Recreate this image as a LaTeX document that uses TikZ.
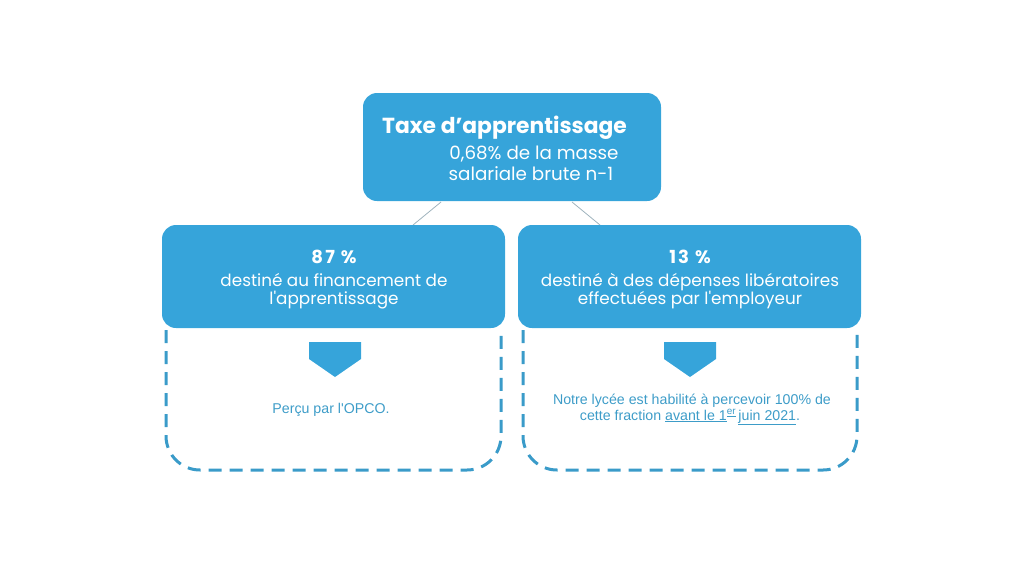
\documentclass[tikz,border=0pt]{standalone}
\usepackage{fontspec}
\setmainfont{Poppins}[Ligatures=TeXOff]
\newfontfamily\arialf{Liberation Sans}[Ligatures=TeXOff]
\definecolor{boxblue}{HTML}{36A4DA}
\definecolor{dashblue}{HTML}{3A9BC9}
\definecolor{textblue}{HTML}{3D9CC8}
\definecolor{linegray}{HTML}{9FB3BD}
\begin{document}
\begin{tikzpicture}[x=1pt,y=-1pt,
  bluebox/.style={fill=boxblue,rounded corners=14pt},
  dashbox/.style={draw=dashblue,line width=3pt,dash pattern=on 13pt off 8pt,rounded corners=34pt},
  linkline/.style={draw=linegray,line width=0.8pt},
  pent/.style={fill=boxblue},
  wtxt/.style={text=white,inner sep=0pt,anchor=base},
  pcttxt/.style={wtxt,font=\bfseries\fontsize{18}{21}\selectfont\addfontfeature{LetterSpace=12}},
  subtxt/.style={wtxt,font=\fontsize{16.8}{20}\selectfont},
  btxt/.style={text=textblue,inner sep=0pt,anchor=base,font=\arialf\fontsize{14.2}{16}\selectfont}]
\useasboundingbox (0,0) rectangle (1024,576);
% connectors
\coordinate (t1) at (441,202);
\coordinate (t2) at (572,202);
\coordinate (l1) at (413,225);
\coordinate (r1) at (600,225);
\draw[linkline] (t1) -- (l1);
\draw[linkline] (t2) -- (r1);
% dashed boxes
\draw[dashbox] (166,330) -- (166,470) -- (501,470) -- (501,330);
\draw[dashbox] (523,330) -- (523,470) -- (857,470) -- (857,330);
% filled boxes
\path[bluebox] (363,93) rectangle (661,201);
\path[bluebox] (162,225) rectangle (505,328);
\path[bluebox] (518,225) rectangle (861,328);
% top texts
\node[wtxt,anchor=base west,font=\bfseries\fontsize{21.8}{24}\selectfont] (title) at (382,133) {Taxe d’apprentissage};
\node[wtxt,font=\fontsize{18.3}{21}\selectfont] (tl2) at (534,159) {0,68\% de la masse};
\node[wtxt,font=\fontsize{18.3}{21}\selectfont] (tl3) at (531,180) {salariale brute n-1};
% left texts
\node[pcttxt] (p87) at (334,263) {87 \%};
\node[subtxt] (l2) at (334,286) {destiné au financement de};
\node[subtxt] (l3) at (334,304) {l'apprentissage};
% right texts
\node[pcttxt] (p13) at (690,263) {13 \%};
\node[subtxt] (r2) at (690,286) {destiné à des dépenses libératoires};
\node[subtxt] (r3) at (690,304) {effectuées par l'employeur};
% pentagons
\path[pent] (309,342) -- (361,342) -- (361,359) -- (335,377) -- (309,359) -- cycle;
\path[pent] (664,342) -- (716,342) -- (716,359) -- (690,377) -- (664,359) -- cycle;
% bottom texts
\node[btxt] (b1) at (331,413) {Perçu par l'OPCO.};
\node[btxt] (b2) at (692,404) {Notre lycée est habilité à percevoir 100\% de};
\node[btxt] (b3) at (690,420) {cette fraction \underline{avant le 1}\textsuperscript{\underline{er}}\,\underline{juin 2021}.};
\end{tikzpicture}
\end{document}
